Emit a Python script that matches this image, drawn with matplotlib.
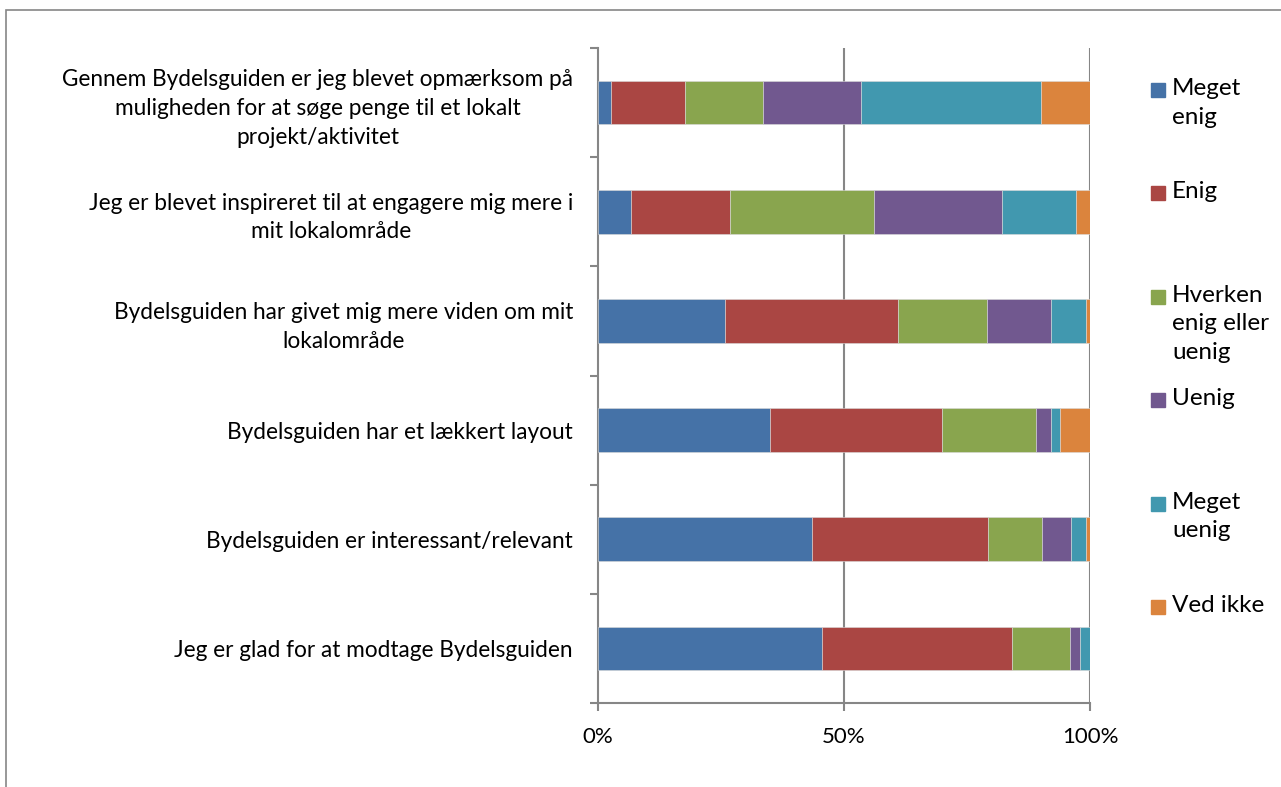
import numpy as np
import matplotlib
matplotlib.use("Agg")
import matplotlib.pyplot as plt
from matplotlib.patches import Rectangle

plt.rcParams['font.family'] = ['Lato', 'DejaVu Sans']

#### Data (percent) ####
questions = ["Gennem Bydelsguiden er jeg blevet opmærksom på\nmuligheden for at søge penge til et lokalt\nprojekt/aktivitet",
             "Jeg er blevet inspireret til at engagere mig mere i\nmit lokalområde",
             "Bydelsguiden har givet mig mere viden om mit\nlokalområde",
             "Bydelsguiden har et lækkert layout",
             "Bydelsguiden er interessant/relevant",
             "Jeg er glad for at modtage Bydelsguiden"]
answers = ["Meget\nenig", "Enig", "Hverken\nenig eller\nuenig", "Uenig", "Meget\nuenig", "Ved ikke"]
meget_enig  = [2.7, 6.8, 25.9, 34.9, 43.5, 45.5]
enig        = [15.0, 20.1, 35.0, 35.0, 35.6, 38.7]
hverken     = [15.9, 29.1, 18.2, 19.1, 11.0, 11.8]
uenig       = [19.8, 26.1, 12.9, 3.0, 5.9, 2.0]
meget_uenig = [36.7, 15.0, 7.1, 2.0, 3.0, 1.9]
ved_ikke    = [9.9, 2.9, 0.9, 6.0, 0.9, 0.1]
xticks = [0, 50, 100]
xlabels = ["0%", "50%", "100%"]

colors = ['#4572A7', '#AA4643', '#89A54E', '#71588F', '#4198AF', '#DB843D']
series = [meget_enig, enig, hverken, uenig, meget_uenig, ved_ikke]

fig = plt.figure(figsize=(12.81, 7.87), dpi=100)
ax = fig.add_axes([598/1281, 1-703/787, 492/1281, 655/787])

# normalise each row to 100%
tot = np.sum(np.array(series), axis=0)
ypos = np.arange(len(questions))[::-1]
left = np.zeros(len(questions))
for s, c in zip(series, colors):
    v = np.array(s)/tot*100
    ax.barh(ypos, v, left=left, height=0.4, color=c, edgecolor='#d9d9d9', linewidth=0.4, zorder=3)
    left += v

grey = '#868686'
ax.set_xlim(0, 100)
ax.set_ylim(-0.5, len(questions)-0.5)
for g in [50, 100]:
    ax.axvline(g, color=grey, lw=1.5, zorder=1)
for sp in ['top', 'right']:
    ax.spines[sp].set_visible(False)
for sp in ['left', 'bottom']:
    ax.spines[sp].set_color(grey)
    ax.spines[sp].set_linewidth(1.5)

ax.set_yticks(np.arange(-0.5, len(questions), 1.0))
ax.set_yticklabels([])
ax.set_yticks(ypos, minor=True)
ax.set_yticklabels(questions, minor=True, fontsize=16.3, ha='right', multialignment='center',
                   linespacing=1.45)
ax.tick_params(axis='y', which='major', length=6, width=1.5, color=grey)
ax.tick_params(axis='y', which='minor', length=0, pad=18)
ax.set_xticks(xticks)
ax.set_xticklabels(xlabels, fontsize=16)
ax.tick_params(axis='x', length=6, width=1.5, color=grey, pad=11)

# chart border
fig.add_artist(Rectangle((6/1281, -0.05), 1.0, 1.05 - 10/787, transform=fig.transFigure,
                         fill=False, edgecolor=grey, lw=1.2))

# legend drawn by hand, markers evenly spaced
for i, (lab, c) in enumerate(zip(answers, colors)):
    yc = 90 + i*103.4
    fig.add_artist(Rectangle((1151/1281, 1-(yc+7)/787), 14/1281, 14/787,
                             transform=fig.transFigure, color=c))
    fig.text(1172/1281, 1-(yc-12)/787, lab, fontsize=17.5, va='top', ha='left', linespacing=1.45)

fig.savefig("out.png", dpi=100)
